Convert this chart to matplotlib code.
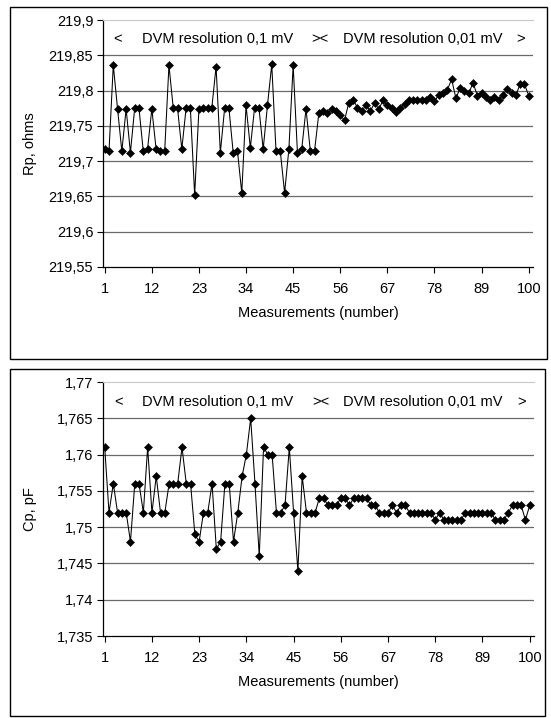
import numpy as np
import matplotlib
matplotlib.use("Agg")
import matplotlib.pyplot as plt
from matplotlib.patches import Rectangle
from matplotlib.ticker import FuncFormatter

plt.rcParams['font.family'] = ['Liberation Sans', 'DejaVu Sans']
plt.rcParams['font.size'] = 10.5

# measurement number
n = np.arange(1, 101)

# parallel resistance, ohms
rp = [219.717, 219.714, 219.836, 219.774, 219.714, 219.774, 219.712, 219.775, 219.775, 219.714,
      219.717, 219.774, 219.717, 219.714, 219.714, 219.836, 219.775, 219.775, 219.717, 219.775,
      219.775, 219.652, 219.774, 219.775, 219.775, 219.775, 219.834, 219.712, 219.775, 219.775,
      219.712, 219.714, 219.655, 219.779, 219.719, 219.776, 219.776, 219.717, 219.779, 219.837,
      219.714, 219.714, 219.655, 219.717, 219.836, 219.712, 219.717, 219.774, 219.715, 219.715,
      219.768, 219.771, 219.768, 219.774, 219.771, 219.765, 219.758, 219.783, 219.787, 219.776,
      219.771, 219.779, 219.771, 219.782, 219.774, 219.786, 219.779, 219.775, 219.769, 219.776,
      219.781, 219.786, 219.787, 219.787, 219.787, 219.786, 219.791, 219.785, 219.794, 219.797,
      219.801, 219.816, 219.789, 219.804, 219.800, 219.796, 219.811, 219.793, 219.796, 219.791,
      219.787, 219.791, 219.786, 219.794, 219.802, 219.796, 219.794, 219.809, 219.809, 219.793]

# parallel capacitance, pF
cp = [1.761, 1.752, 1.756, 1.752, 1.752, 1.752, 1.748, 1.756, 1.756, 1.752,
      1.761, 1.752, 1.757, 1.752, 1.752, 1.756, 1.756, 1.756, 1.761, 1.756,
      1.756, 1.749, 1.748, 1.752, 1.752, 1.756, 1.747, 1.748, 1.756, 1.756,
      1.748, 1.752, 1.757, 1.760, 1.765, 1.756, 1.746, 1.761, 1.760, 1.760,
      1.752, 1.752, 1.753, 1.761, 1.752, 1.744, 1.757, 1.752, 1.752, 1.752,
      1.754, 1.754, 1.753, 1.753, 1.753, 1.754, 1.754, 1.753, 1.754, 1.754,
      1.754, 1.754, 1.753, 1.753, 1.752, 1.752, 1.752, 1.753, 1.752, 1.753,
      1.753, 1.752, 1.752, 1.752, 1.752, 1.752, 1.752, 1.751, 1.752, 1.751,
      1.751, 1.751, 1.751, 1.751, 1.752, 1.752, 1.752, 1.752, 1.752, 1.752,
      1.752, 1.751, 1.751, 1.751, 1.752, 1.753, 1.753, 1.753, 1.751, 1.753]

x_ticks = [1, 12, 23, 34, 45, 56, 67, 78, 89, 100]
rp_ticks = np.round(np.arange(219.55, 219.901, 0.05), 3)
cp_ticks = np.round(np.arange(1.735, 1.7701, 0.005), 3)

W, H = 551, 718
fig = plt.figure(figsize=(W / 100, H / 100), dpi=100)


def box(x0, y0, x1, y1):
    fig.patches.append(Rectangle((x0 / W, 1 - y1 / H), (x1 - x0) / W, (y1 - y0) / H,
                                 transform=fig.transFigure, fill=False,
                                 edgecolor='black', linewidth=1.0))


def axes(x0, y0, x1, y1):
    return fig.add_axes([x0 / W, 1 - y1 / H, (x1 - x0) / W, (y1 - y0) / H])


comma = FuncFormatter(lambda v, p: ('%g' % round(v, 3)).replace('.', ','))


def draw(ax, y, ticks, ylabel):
    ax.plot(n, y, color='black', lw=0.75, marker='D', ms=3.8, mew=0.4,
            markerfacecolor='black', markeredgecolor='black')
    ax.set_xlim(0.6, 101)
    ax.set_ylim(ticks[0], ticks[-1])
    ax.set_yticks(ticks)
    ax.set_xticks(x_ticks)
    ax.yaxis.set_major_formatter(comma)
    for t in ticks[1:-1]:
        ax.axhline(t, color='#6a6a6a', lw=0.9, zorder=0)
    ax.spines['right'].set_visible(False)
    ax.spines['top'].set_color('#c8c8c8')
    ax.spines['left'].set_linewidth(0.9)
    ax.spines['bottom'].set_linewidth(0.9)
    ax.tick_params(direction='out', length=4, width=0.8, pad=3)
    ax.tick_params(axis='x', pad=7)
    ax.set_xlabel('Measurements (number)', labelpad=7)
    ax.set_ylabel(ylabel)
    ax.yaxis.set_label_coords(-0.153, 0.5)
    ty = 0.922
    ax.text(0.035, ty, '<', transform=ax.transAxes, ha='center', va='center')
    ax.text(0.0907, ty, 'DVM resolution 0,1 mV', transform=ax.transAxes, ha='left', va='center')
    ax.text(0.505, ty, '><', transform=ax.transAxes, ha='center', va='center')
    ax.text(0.558, ty, 'DVM resolution 0,01 mV', transform=ax.transAxes, ha='left', va='center')
    ax.text(0.970, ty, '>', transform=ax.transAxes, ha='center', va='center')


box(10, 7, 547, 359)
box(10, 369, 545, 716)

ax1 = axes(103, 20, 533, 267)
draw(ax1, rp, rp_ticks, 'Rp, ohms')

ax2 = axes(103, 382, 534, 636)
draw(ax2, cp, cp_ticks, 'Cp, pF')

fig.savefig('out.png', dpi=100)
